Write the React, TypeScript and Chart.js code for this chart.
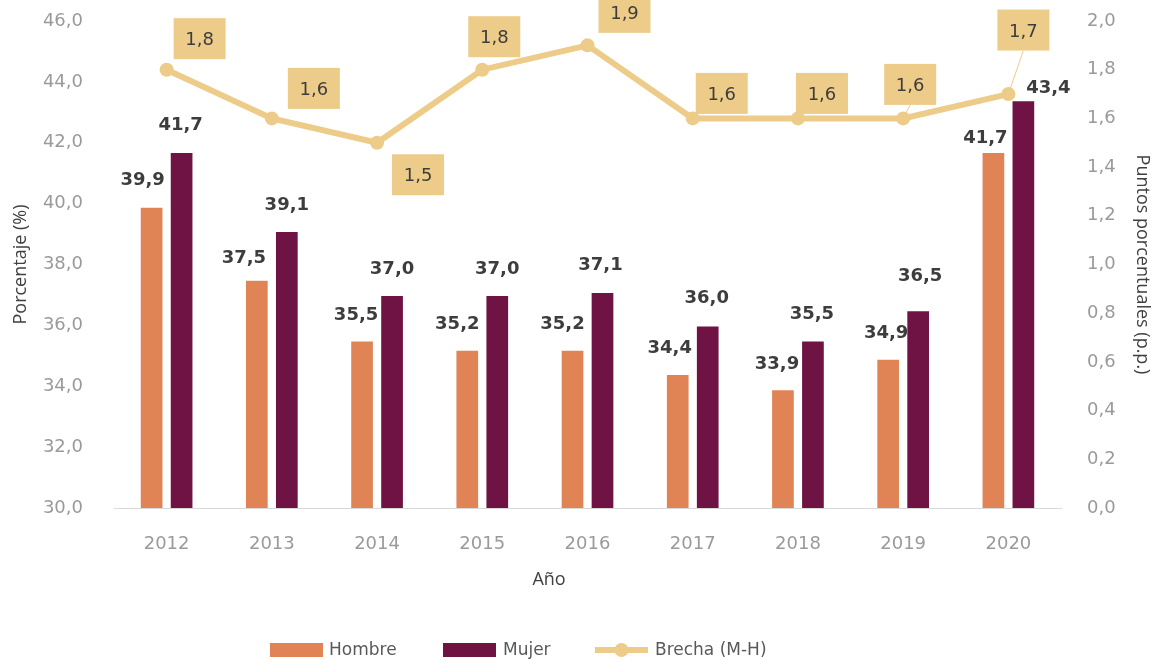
import React, { useEffect, useRef } from "react";
import { Chart, registerables } from "chart.js";

Chart.register(...registerables);

// ---- Data ----
const years = ["2012", "2013", "2014", "2015", "2016", "2017", "2018", "2019", "2020"];
const hombre = [39.9, 37.5, 35.5, 35.2, 35.2, 34.4, 33.9, 34.9, 41.7];
const mujer = [41.7, 39.1, 37.0, 37.0, 37.1, 36.0, 35.5, 36.5, 43.4];
const brecha = [1.8, 1.6, 1.5, 1.8, 1.9, 1.6, 1.6, 1.6, 1.7];

const leftMin = 30;
const leftMax = 46;
const leftStep = 2;
const rightMin = 0;
const rightMax = 2;
const rightStep = 0.2;

const seriesNames = ["Hombre", "Mujer", "Brecha (M-H)"];
const xTitle = "Año";
const yLeftTitle = "Porcentaje (%)";
const yRightTitle = "Puntos porcentuales (p.p.)";

// ---- Label placement (style, relative offsets in px) ----
const hombreLabelOffset = [[-9, -26], [-13, -21], [-6, -25], [-10, -25], [-10, -25], [-8, -26], [-6, -25], [-2, -26], [-8, -14]];
const mujerLabelOffset = [[-1, -27], [0, -26], [0, -26], [0, -26], [-2, -27], [-1, -27], [-1, -26], [2, -34], [25, -12]];
const brechaBoxOffset = [[33, -31], [42, -30], [41, 32], [12, -33], [37, -33], [29, -25], [24, -25], [7, -34], [15, -64]];
const brechaLeader = [false, false, false, false, false, false, false, true, true];

// ---- Style ----
const C_HOMBRE = "#E08455";
const C_MUJER = "#6E1343";
const C_BRECHA = "#EDCB89";
const C_TICK = "#9a9a9a";
const C_TITLE = "#404040";
const C_LABEL = "#3d3d3d";
const FONT = '"DejaVu Sans", Verdana, sans-serif';
const TITLE_FONT = '"Open Sans", "Noto Sans", sans-serif';
const BOX_W = 52;
const BOX_H = 41;

const fmt = (v: number) => Number(v).toFixed(1).replace(".", ",");

const annotatePlugin = {
  id: "annotate",
  afterDatasetsDraw(chart: any) {
    const ctx = chart.ctx as CanvasRenderingContext2D;
    ctx.save();
    ctx.font = `bold 18px ${FONT}`;
    ctx.fillStyle = C_LABEL;
    ctx.textAlign = "center";
    ctx.textBaseline = "middle";
    const bars: [number, number[], number[][]][] = [
      [0, hombre, hombreLabelOffset],
      [1, mujer, mujerLabelOffset],
    ];
    for (const [di, vals, offs] of bars) {
      const meta = chart.getDatasetMeta(di);
      meta.data.forEach((el: any, i: number) => {
        ctx.fillText(fmt(vals[i]), el.x + offs[i][0], el.y + offs[i][1]);
      });
    }
    // Brecha boxes
    const lm = chart.getDatasetMeta(2);
    ctx.font = `18px ${FONT}`;
    lm.data.forEach((pt: any, i: number) => {
      const cx = pt.x + brechaBoxOffset[i][0];
      const cy = pt.y + brechaBoxOffset[i][1];
      if (brechaLeader[i]) {
        ctx.strokeStyle = C_BRECHA;
        ctx.lineWidth = 1;
        ctx.beginPath();
        ctx.moveTo(pt.x, pt.y);
        ctx.lineTo(cx, cy + BOX_H / 2);
        ctx.stroke();
      }
      ctx.fillStyle = C_BRECHA;
      ctx.fillRect(cx - BOX_W / 2, cy - BOX_H / 2, BOX_W, BOX_H);
      ctx.fillStyle = C_LABEL;
      ctx.fillText(fmt(brecha[i]), cx, cy + 2);
    });
    ctx.restore();
  },
  afterDraw(chart: any) {
    const ctx = chart.ctx as CanvasRenderingContext2D;
    ctx.save();
    // x axis title
    ctx.font = `18px ${TITLE_FONT}`;
    ctx.fillStyle = C_TITLE;
    ctx.textAlign = "center";
    ctx.textBaseline = "middle";
    ctx.fillText(xTitle, 549, 580);
    // legend
    const ly = 650;
    ctx.font = `17px ${FONT}`;
    ctx.textAlign = "left";
    ctx.fillStyle = C_HOMBRE;
    ctx.fillRect(270, ly - 7, 53, 14);
    ctx.fillStyle = "#595959";
    ctx.fillText(seriesNames[0], 329, ly + 1);
    ctx.fillStyle = C_MUJER;
    ctx.fillRect(443, ly - 7, 53, 14);
    ctx.fillStyle = "#595959";
    ctx.fillText(seriesNames[1], 503, ly + 1);
    ctx.strokeStyle = C_BRECHA;
    ctx.lineWidth = 6;
    ctx.beginPath();
    ctx.moveTo(595, ly);
    ctx.lineTo(648, ly);
    ctx.stroke();
    ctx.fillStyle = C_BRECHA;
    ctx.beginPath();
    ctx.arc(621.5, ly, 7, 0, Math.PI * 2);
    ctx.fill();
    ctx.fillStyle = "#595959";
    ctx.fillText(seriesNames[2], 655, ly + 1);
    ctx.restore();
  },
};

export default function App() {
  const ref = useRef<HTMLCanvasElement | null>(null);
  useEffect(() => {
    if (!ref.current) return;
    const chart = new Chart(ref.current, {
      type: "bar",
      data: {
        labels: years,
        datasets: [
          {
            type: "bar",
            label: seriesNames[0],
            data: hombre,
            backgroundColor: C_HOMBRE,
            borderColor: "rgba(255,255,255,0.35)",
            borderWidth: 1,
            yAxisID: "y",
            order: 1,
            categoryPercentage: 0.57,
            barPercentage: 0.79,
          },
          {
            type: "bar",
            label: seriesNames[1],
            data: mujer,
            backgroundColor: C_MUJER,
            borderColor: "rgba(255,255,255,0.35)",
            borderWidth: 1,
            yAxisID: "y",
            order: 1,
            categoryPercentage: 0.57,
            barPercentage: 0.79,
          },
          {
            type: "line",
            label: seriesNames[2],
            data: brecha,
            borderColor: C_BRECHA,
            backgroundColor: C_BRECHA,
            borderWidth: 6,
            pointRadius: 7,
            pointBackgroundColor: C_BRECHA,
            pointBorderWidth: 0,
            tension: 0,
            yAxisID: "y1",
            order: 0,
          } as any,
        ],
      },
      options: {
        responsive: false,
        animation: false,
        layout: { padding: { top: 21, left: 0, right: 0, bottom: 0 } },
        plugins: {
          legend: { display: false },
          tooltip: { enabled: false },
        },
        scales: {
          x: {
            grid: { display: false, drawTicks: false },
            border: { display: true, color: "#d9d9d9", width: 1 },
            ticks: { color: C_TICK, font: { family: FONT, size: 18 }, padding: 26 },
            afterFit: (s: any) => {
              s.height = 153;
              s.paddingLeft = 0;
              s.paddingRight = 0;
            },
          },
          y: {
            position: "left",
            min: leftMin,
            max: leftMax,
            grid: { display: false, drawTicks: false },
            border: { display: false },
            ticks: {
              stepSize: leftStep,
              color: C_TICK,
              font: { family: FONT, size: 18 },
              padding: 31,
              callback: (v: any) => fmt(v),
            },
            title: {
              display: true,
              text: yLeftTitle,
              color: C_TITLE,
              font: { family: TITLE_FONT, size: 18 },
              padding: { top: 10, bottom: 0 },
            },
            afterFit: (s: any) => {
              s.width = 114;
              s.paddingTop = 0;
              s.paddingBottom = 0;
            },
          },
          y1: {
            position: "right",
            min: rightMin,
            max: rightMax,
            grid: { display: false, drawTicks: false },
            border: { display: false },
            ticks: {
              stepSize: rightStep,
              color: C_TICK,
              font: { family: FONT, size: 18 },
              padding: 26,
              callback: (v: any) => fmt(v),
            },
            title: {
              display: true,
              text: yRightTitle,
              color: C_TITLE,
              font: { family: TITLE_FONT, size: 18, lineHeight: 1 },
              padding: { top: 0, bottom: 0 },
            },
            afterFit: (s: any) => {
              s.width = 90;
              s.paddingTop = 0;
              s.paddingBottom = 0;
            },
          },
        },
      } as any,
      plugins: [annotatePlugin],
    });
    return () => chart.destroy();
  }, []);
  return (
    <div style={{ position: "absolute", left: 0, top: 0, width: 1151, height: 661, background: "#fff" }}>
      <canvas ref={ref} width={1151} height={661} style={{ display: "block" }} />
    </div>
  );
}
